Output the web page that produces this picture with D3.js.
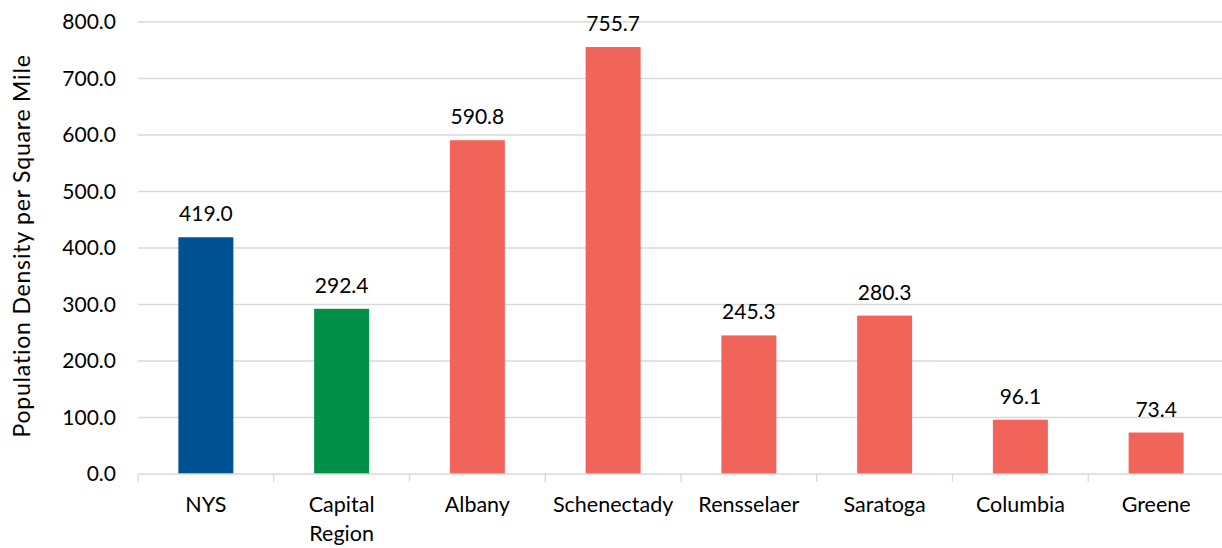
<!DOCTYPE html>
<meta charset="utf-8" />
<style>
  body { margin: 0; background: #fff; }
  text { font-family: Lato, "Open Sans", sans-serif; fill: #000; }
</style>
<body>
  <script src="https://d3js.org/d3.v7.min.js"></script>
  <script>
    // chart data
    var categories = ["NYS", "Capital Region", "Albany", "Schenectady", "Rensselaer", "Saratoga", "Columbia", "Greene"];
    var values = [419.0, 292.4, 590.8, 755.7, 245.3, 280.3, 96.1, 73.4];
    var barColors = ["#005293", "#008F47", "#F06459", "#F06459", "#F06459", "#F06459", "#F06459", "#F06459"];
    var yTicks = [0, 100, 200, 300, 400, 500, 600, 700, 800];

    var W = 1222, H = 548;
    var plotLeft = 138, plotRight = 1224, plotTop = 22, plotBottom = 474;

    var svg = d3.select("body").append("svg")
      .attr("width", W).attr("height", H);

    var x = d3.scaleBand().domain(categories).range([plotLeft, plotRight]).paddingInner(0.595).paddingOuter(0.2975);
    var xb = d3.scaleBand().domain(categories).range([plotLeft, plotRight]);
    var y = d3.scaleLinear().domain([0, 800]).range([plotBottom, plotTop]);

    // gridlines
    svg.append("g").selectAll("line").data(yTicks.slice(1)).enter().append("line")
      .attr("x1", plotLeft).attr("x2", plotRight)
      .attr("y1", function (d) { return y(d); }).attr("y2", function (d) { return y(d); })
      .attr("stroke", "#d9d9d9").attr("stroke-width", 1.3);

    // y tick labels
    svg.append("g").selectAll("text").data(yTicks).enter().append("text")
      .attr("x", 116).attr("y", function (d) { return y(d) + 7; })
      .attr("text-anchor", "end").style("font-size", "21px")
      .text(function (d) { return d.toFixed(1); });

    // bars
    svg.append("g").selectAll("rect").data(values).enter().append("rect")
      .attr("x", function (d, i) { return x(categories[i]); })
      .attr("width", x.bandwidth())
      .attr("y", function (d) { return y(d); })
      .attr("height", function (d) { return plotBottom - y(d); })
      .attr("fill", function (d, i) { return barColors[i]; });

    // value labels
    svg.append("g").selectAll("text").data(values).enter().append("text")
      .attr("x", function (d, i) { return x(categories[i]) + x.bandwidth() / 2; })
      .attr("y", function (d) { return y(d) - 16; })
      .attr("text-anchor", "middle").style("font-size", "21px")
      .text(function (d) { return d.toFixed(1); });

    // x axis line and ticks
    svg.append("line").attr("x1", plotLeft).attr("x2", plotRight)
      .attr("y1", plotBottom).attr("y2", plotBottom)
      .attr("stroke", "#d9d9d9").attr("stroke-width", 1.3);
    var tickPos = categories.map(function (c) { return xb(c); }).concat([plotRight]);
    svg.append("g").selectAll("line").data(tickPos).enter().append("line")
      .attr("x1", function (d) { return d; }).attr("x2", function (d) { return d; })
      .attr("y1", plotBottom).attr("y2", plotBottom + 8)
      .attr("stroke", "#d9d9d9").attr("stroke-width", 1.3);

    // category labels, "Capital Region" wraps to two lines
    svg.append("g").selectAll("text").data(categories).enter().append("text")
      .attr("text-anchor", "middle").style("font-size", "21.5px")
      .each(function (d) {
        var t = d3.select(this);
        var cx = xb(d) + xb.bandwidth() / 2;
        var lines = d === "Capital Region" ? d.split(" ") : [d];
        lines.forEach(function (l, k) {
          t.append("tspan").attr("x", cx).attr("y", 512 + k * 29).text(l);
        });
      });

    // y axis title
    svg.append("text")
      .attr("transform", "translate(30,246) rotate(-90)")
      .attr("text-anchor", "middle").style("font-size", "23px")
      .style("letter-spacing", "0.8px")
      .text("Population Density per Square Mile");
  </script>
</body>
